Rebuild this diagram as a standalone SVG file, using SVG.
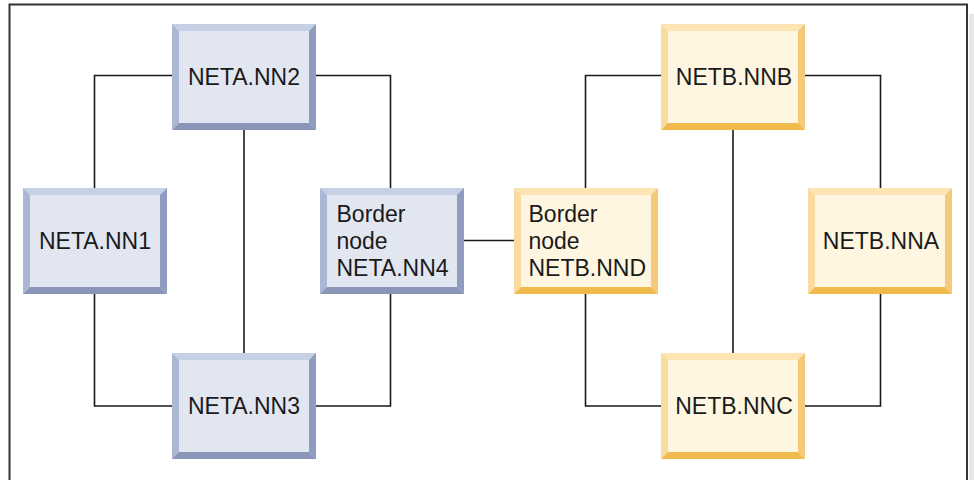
<svg xmlns="http://www.w3.org/2000/svg" xmlns:xlink="http://www.w3.org/1999/xlink" width="974" height="480" viewBox="0 0 974 480">
<style>
.t{font-family:"Liberation Sans",Arial,sans-serif;font-size:23px;fill:#1a1a1a}
.c{text-anchor:middle}
.ln{fill:none;stroke:#1a1a1a;stroke-width:1.6}
.bf{fill:#e1e6f1}.bt{fill:#c6d0e5}.bl{fill:#aab7d5}.br{fill:#8f9cbf}.bb{fill:#8a96b8}
.yf{fill:#fef6e0}.yt{fill:#fce4b4}.yl{fill:#fadb9f}.yr{fill:#f4c97c}.yb{fill:#f0ba4c}
</style>
<defs>
<g id="blue">
<rect x="0" y="0" width="144" height="106" class="bf"/>
<polygon points="0,0 144,0 137,7 7,7" class="bt"/>
<polygon points="0,0 7,7 7,99 0,106" class="bl"/>
<polygon points="144,0 144,106 137,99 137,7" class="br"/>
<polygon points="0,106 144,106 137,99 7,99" class="bb"/>
</g>
<g id="yellow">
<rect x="0" y="0" width="144" height="106" class="yf"/>
<polygon points="0,0 144,0 137,7 7,7" class="yt"/>
<polygon points="0,0 7,7 7,99 0,106" class="yl"/>
<polygon points="144,0 144,106 137,99 137,7" class="yr"/>
<polygon points="0,106 144,106 137,99 7,99" class="yb"/>
</g>
</defs>
<rect x="0" y="0" width="974" height="480" fill="#ffffff"/>
<rect x="969" y="14" width="5" height="466" fill="#e6e6e6"/>
<path d="M9.5,480 V4.5 H967 V480" fill="none" stroke="#333333" stroke-width="2"/>
<g id="connectors">
<path class="ln" d="M172,75.5 H94.5 V188"/>
<path class="ln" d="M94.5,294 V406 H172"/>
<path class="ln" d="M316,75.5 H390.5 V188"/>
<path class="ln" d="M390.5,294 V406 H316"/>
<path class="ln" d="M244,130 V353"/>
<path class="ln" d="M464,240.5 H514"/>
<path class="ln" d="M661,75.5 H585.5 V188"/>
<path class="ln" d="M585.5,294 V406 H661"/>
<path class="ln" d="M805,75.5 H880.5 V188"/>
<path class="ln" d="M880.5,294 V406 H805"/>
<path class="ln" d="M733,130 V353"/>
</g>
<g id="NETA.NN2"><use xlink:href="#blue" x="172" y="24"/><text class="t c" x="244" y="85">NETA.NN2</text></g>
<g id="NETA.NN1"><use xlink:href="#blue" x="23" y="188"/><text class="t c" x="95" y="249">NETA.NN1</text></g>
<g id="NETA.NN4"><use xlink:href="#blue" x="320" y="188"/><text class="t" x="336.5"><tspan x="336.5" y="222">Border</tspan><tspan x="336.5" y="249">node</tspan><tspan x="336.5" y="276">NETA.NN4</tspan></text></g>
<g id="NETA.NN3"><use xlink:href="#blue" x="172" y="353"/><text class="t c" x="244" y="414">NETA.NN3</text></g>
<g id="NETB.NNB"><use xlink:href="#yellow" x="661" y="24"/><text class="t c" x="734" y="85">NETB.NNB</text></g>
<g id="NETB.NND"><use xlink:href="#yellow" x="514" y="188"/><text class="t" x="528.5"><tspan x="528.5" y="222">Border</tspan><tspan x="528.5" y="249">node</tspan><tspan x="528.5" y="276">NETB.NND</tspan></text></g>
<g id="NETB.NNA"><use xlink:href="#yellow" x="808" y="188"/><text class="t c" x="881" y="249">NETB.NNA</text></g>
<g id="NETB.NNC"><use xlink:href="#yellow" x="661" y="353"/><text class="t c" x="734" y="414">NETB.NNC</text></g>
</svg>
